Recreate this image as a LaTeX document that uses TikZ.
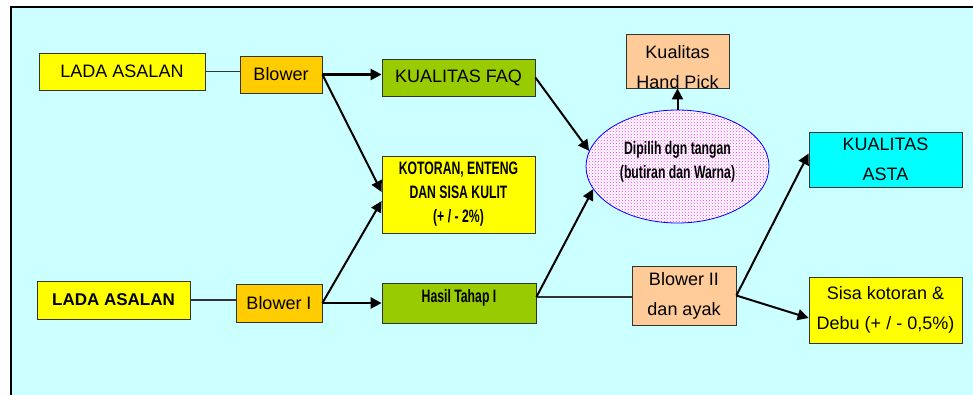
\documentclass[tikz,border=0pt]{standalone}
\usepackage{fontspec}
\setmainfont{Liberation Sans}
\newfontfamily\sempit[FakeStretch=0.68]{Liberation Sans}
\usetikzlibrary{arrows.meta,shapes.geometric,patterns}
\definecolor{latar}{HTML}{CCFFFF}
\definecolor{kuning}{HTML}{FFFF00}
\definecolor{jingga}{HTML}{FFCC00}
\definecolor{hijau}{HTML}{99CC00}
\definecolor{krem}{HTML}{FFCC99}
\definecolor{sian}{HTML}{00FFFF}
\definecolor{garis}{HTML}{333333}

\begin{document}
\begin{tikzpicture}[x=1pt, y=-1pt,
    kotak/.style={draw=garis, line width=0.8pt, inner sep=0pt, align=center,
      font=\fontsize{18}{30}\selectfont},
    tebal/.style={font=\sempit\bfseries\fontsize{18}{24}\selectfont},
    panah/.style={-{Triangle[length=11pt,width=11pt]}, line width=2pt},
    sambung/.style={draw=garis, line width=1.2pt}]
    \clip (0,0) rectangle (973,394);
    \draw [fill=latar, line width=2.5pt] (11,7) rectangle (990,410);

    \node [kotak, fill=kuning, minimum width=166pt, minimum height=37pt] (ladaatas) at (122,71.5) {LADA ASALAN};
    \node [kotak, fill=jingga, minimum width=82pt, minimum height=37pt] (blower) at (281,74.5) {Blower};
    \node [kotak, fill=hijau, minimum width=153pt, minimum height=37pt] (faq) at (458.5,77.5) {KUALITAS FAQ};
    \node [kotak, tebal, fill=kuning, minimum width=153pt, minimum height=77pt] (kotoran) at (458.5,194.5) {KOTORAN, ENTENG\\DAN SISA KULIT\\(+ / - 2\%)};
    \node [kotak, fill=krem, minimum width=103pt, minimum height=54pt,
      path picture={\node [font=\fontsize{18}{30}\selectfont, align=center] (handpickteks)
        at ([yshift=-6.5pt]path picture bounding box.center) {Kualitas\\Hand Pick};}] (handpick) at (677.5,61) {};
    \node [ellipse, draw=blue, line width=0.8pt, preaction={fill=white}, pattern=crosshatch dots, pattern color=magenta!80,
      minimum width=183pt, minimum height=113pt, inner sep=0pt] (pilih) at (677.5,166.5) {};
    \node [tebal, align=center] (pilihteks) at (677.5,162) {Dipilih dgn tangan\\(butiran dan Warna)};
    \node [kotak, fill=sian, minimum width=153pt, minimum height=55pt] (asta) at (885.5,159.5) {KUALITAS\\ASTA};

    \node [kotak, fill=kuning, font=\bfseries\fontsize{17}{24}\selectfont, minimum width=153pt, minimum height=38pt] (ladabawah) at (113.5,300) {LADA ASALAN};
    \node [kotak, fill=jingga, minimum width=86pt, minimum height=38pt] (blowersatu) at (279,303) {Blower I};
    \node [kotak, tebal, fill=hijau, minimum width=154pt, minimum height=40pt, text height=13pt, text depth=15pt] (hasil) at (459,303) {Hasil Tahap I};
    \node [kotak, fill=krem, minimum width=104pt, minimum height=59pt] (blowerdua) at (684,295.5) {Blower II\\dan ayak};
    \node [kotak, fill=kuning, minimum width=153pt, minimum height=66pt] (sisa) at (885.5,310) {Sisa kotoran \&\\Debu (+ / - 0,5\%)};

    \coordinate (hasilout) at ([yshift=6pt]hasil.east);

    \draw [sambung] (ladaatas.east) -- (ladaatas.east -| blower.west);
    \draw [panah, line width=2.5pt] (blower.east) -- (blower.east -| faq.west);
    \draw [panah] (blower.east) -- ([yshift=2.5pt]kotoran.west);
    \draw [sambung] (ladabawah.east) -- (ladabawah.east -| blowersatu.west);
    \draw [panah, line width=2.5pt] (blowersatu.east) -- (hasil.west);
    \draw [panah] (blowersatu.east) -- ([yshift=-6.5pt]kotoran.west);
    \draw [panah] (faq.east) -- (pilih.170);
    \draw [sambung] (hasilout) -- (hasilout -| blowerdua.west);
    \draw [panah] (hasilout) -- (pilih.195);
    \draw [panah] (pilih.north) -- (handpick.south);
    \draw [panah] (blowerdua.east) -- ([yshift=6pt]asta.west);
    \draw [panah] (blowerdua.east) -- ([yshift=-8pt]sisa.west);
\end{tikzpicture}
\end{document}
